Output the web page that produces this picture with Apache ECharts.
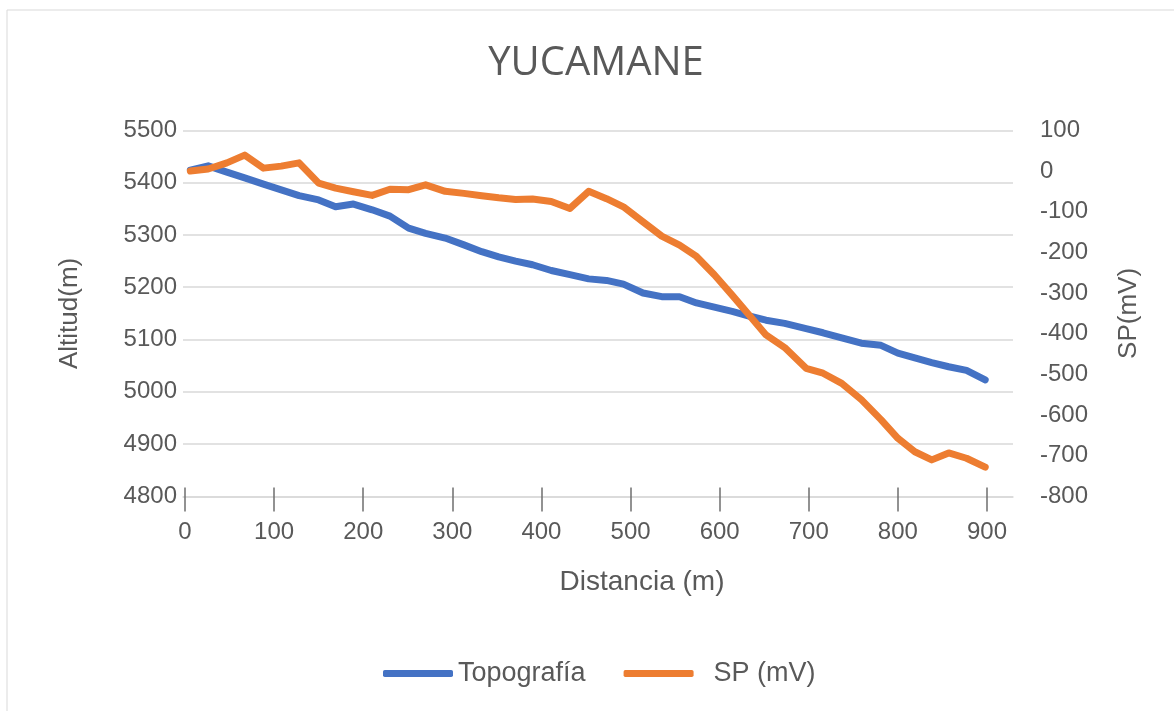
<!DOCTYPE html>
<html>
<head>
<meta charset="utf-8">
<script src="https://cdn.jsdelivr.net/npm/echarts@6/dist/echarts.min.js"></script>
<style>
  html, body { margin: 0; padding: 0; background: #ffffff; }
  #chart { width: 1174px; height: 711px; }
</style>
</head>
<body>
<div id="chart"></div>
<script>
// Survey stations along the profile (m)
const distance = [6, 26, 47, 67, 88, 108, 128, 150, 169, 189, 210, 230, 251, 270, 292,
  313, 333, 352, 371, 390, 411, 432, 453, 473, 492, 514, 535, 555, 574, 594,
  614, 633, 652, 673, 697, 716, 737, 759, 781, 800, 819, 838, 857, 877, 898];

// Ground elevation at each station (m a.s.l.)
const topografia = [5424, 5432, 5420, 5409, 5397, 5386, 5375, 5367, 5354, 5359, 5348, 5336, 5313, 5303, 5294,
  5281, 5268, 5258, 5250, 5243, 5232, 5224, 5216, 5213, 5206, 5189, 5182, 5182, 5170, 5162,
  5154, 5145, 5137, 5131, 5121, 5113, 5103, 5093, 5089, 5074, 5065, 5056, 5048, 5041, 5023];

// Self-potential reading at each station (mV)
const sp = [0, 5, 20, 39, 7, 12, 20, -30, -42, -51, -60, -45, -46, -34, -50,
  -55, -61, -66, -70, -69, -75, -92, -50, -68, -88, -125, -160, -182, -210, -255,
  -305, -354, -403, -434, -485, -497, -522, -562, -611, -657, -690, -710, -693, -706, -728];

// Axis ranges [min, max, step]
const distRange = [0, 900, 100];
const altRange = [4800, 5500, 100];
const spRange = [-800, 100, 100];

const seriesNames = ['Topografía', '  SP (mV)'];
const axisNames = ['Distancia (m)', 'Altitud(m)', 'SP(mV)'];
const titleText = 'YUCAMANE';

const textColor = '#595959';
const gridColor = '#d9d9d9';
const tickColor = '#6f6f6f';
const font = 'Liberation Sans, Arial, sans-serif';
const plain = v => String(v);

const chart = echarts.init(document.getElementById('chart'));

const option = {
  backgroundColor: '#ffffff',
  animation: false,
  graphic: [
    {
      // chart frame
      type: 'rect',
      shape: { x: 7, y: 10, width: 1200, height: 720 },
      style: { fill: 'none', stroke: gridColor, lineWidth: 1 },
      silent: true
    },
    {
      // chart title
      type: 'text',
      x: 596, y: 64,
      style: {
        text: titleText, fill: textColor,
        font: '40px "Open Sans", sans-serif',
        textAlign: 'center', textVerticalAlign: 'middle'
      },
      silent: true
    }
  ],
  legend: {
    left: 378,
    top: 655,
    icon: 'roundRect',
    itemWidth: 70,
    itemHeight: 7,
    itemGap: 38,
    textStyle: { color: textColor, fontSize: 27, fontFamily: font },
    data: seriesNames
  },
  grid: [
    { left: 183, right: 161, top: 130.3, bottom: 214.5 },
    { left: 185, right: 187, top: 130.3, bottom: 214.5 }
  ],
  xAxis: [
    {
      gridIndex: 0, type: 'value', min: 0, max: 1, position: 'bottom',
      axisLine: { show: true, onZero: false, lineStyle: { color: gridColor, width: 1.5 } },
      axisTick: { show: false }, axisLabel: { show: false }, splitLine: { show: false }
    },
    {
      // tick marks cross the baseline: the axis is lifted and its ticks hang through it
      gridIndex: 1, type: 'value', position: 'bottom', offset: -9,
      min: distRange[0], max: distRange[1], interval: distRange[2],
      axisLine: { show: false, onZero: false },
      axisTick: { show: true, inside: false, length: 24, lineStyle: { color: tickColor, width: 1.5 } },
      axisLabel: { color: textColor, fontSize: 24, fontFamily: font, margin: 33 },
      splitLine: { show: false },
      name: axisNames[0], nameLocation: 'middle', nameGap: 81,
      nameTextStyle: { color: textColor, fontSize: 28, fontFamily: font, padding: [0, 0, 0, 112] }
    }
  ],
  yAxis: [
    {
      gridIndex: 0, type: 'value', position: 'left',
      min: altRange[0], max: altRange[1], interval: altRange[2],
      axisLine: { show: false }, axisTick: { show: false },
      axisLabel: { color: textColor, fontSize: 24, fontFamily: font, margin: 6, formatter: plain },
      splitLine: { show: true, lineStyle: { color: gridColor, width: 1.5 } },
      name: axisNames[1], nameLocation: 'middle', nameRotate: 90, nameGap: 100,
      nameTextStyle: { color: textColor, fontSize: 26, fontFamily: font }
    },
    {
      gridIndex: 0, type: 'value', position: 'right',
      min: spRange[0], max: spRange[1], interval: spRange[2],
      axisLine: { show: false }, axisTick: { show: false },
      axisLabel: { color: textColor, fontSize: 24, fontFamily: font, margin: 27, formatter: plain },
      splitLine: { show: false },
      name: axisNames[2], nameLocation: 'middle', nameRotate: 90, nameGap: 103,
      nameTextStyle: { color: textColor, fontSize: 26, fontFamily: font }
    },
    {
      gridIndex: 1, type: 'value', min: altRange[0], max: altRange[1], show: false, splitLine: { show: false }
    },
    {
      gridIndex: 1, type: 'value', min: spRange[0], max: spRange[1], show: false, splitLine: { show: false }
    }
  ],
  series: [
    {
      name: seriesNames[0], type: 'line', xAxisIndex: 1, yAxisIndex: 2,
      data: distance.map((d, i) => [d, topografia[i]]),
      symbol: 'none', color: '#4472C4',
      lineStyle: { width: 7, color: '#4472C4', cap: 'round', join: 'round' }
    },
    {
      name: seriesNames[1], type: 'line', xAxisIndex: 1, yAxisIndex: 3,
      data: distance.map((d, i) => [d, sp[i]]),
      symbol: 'none', color: '#ED7D31',
      lineStyle: { width: 7, color: '#ED7D31', cap: 'round', join: 'round' }
    }
  ]
};

chart.setOption(option);
</script>
</body>
</html>
